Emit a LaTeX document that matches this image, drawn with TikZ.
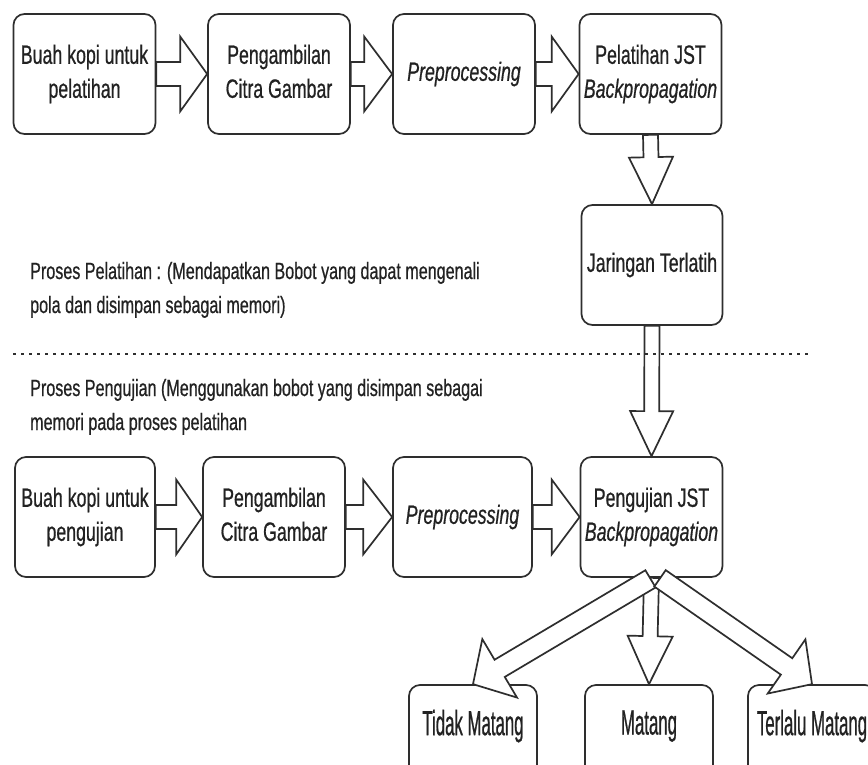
\documentclass[tikz,border=0pt]{standalone}
\usepackage{fontspec}
\usetikzlibrary{calc}
\newfontfamily\dgfont[FakeStretch=0.67,FakeBold=0.6]{Liberation Sans}
\newfontfamily\capfont[FakeStretch=0.686,FakeBold=0.6]{Liberation Sans}
\newfontfamily\lblfont[FakeStretch=0.48,FakeBold=0.6]{Liberation Sans}
\definecolor{ink}{HTML}{2E2E2E}
\definecolor{txt}{HTML}{222222}

% hollow block arrow: #1 tail, #2 tip, #3 half shaft width, #4 half head width, #5 head length
\newcommand\blockarrow[5]{%
  \coordinate (ba-h) at ($(#2)!#5!(#1)$);
  \draw[barrow] ($(#1)!#3!90:(#2)$) -- ($(ba-h)!#3!90:(#2)$) -- ($(ba-h)!#4!90:(#2)$)
    -- (#2) -- ($(ba-h)!#4!-90:(#2)$) -- ($(ba-h)!#3!-90:(#2)$) -- ($(#1)!#3!-90:(#2)$) -- cycle;}

\tikzset{
  box/.style={draw=ink, line width=1.7pt, rounded corners=11pt, fill=white,
    minimum width=142pt, minimum height=120pt, inner sep=0pt, align=center,
    font=\dgfont\fontsize{26.5}{34}\selectfont, text=txt, text depth=5.6pt},
  outbox/.style={box, minimum width=128pt, minimum height=130pt,
    font=\lblfont\fontsize{35}{40}\selectfont, text depth=55pt},
  barrow/.style={draw=ink, line width=1.7pt, fill=white, line join=miter},
  dotline/.style={draw=ink, line width=2.6pt, dash pattern=on 2.6pt off 5.4pt},
  capt/.style={font=\capfont\fontsize{23.5}{34}\selectfont, text=txt, inner sep=0pt, anchor=base west}
}

\begin{document}
\begin{tikzpicture}[x=1pt, y=-1pt]
\useasboundingbox (0,0) rectangle (868,764);
\fill[white] (0,0) rectangle (868,764);
\clip (0,0) rectangle (868,764);

% training row
\node[box] (b1) at (84.5,74) {Buah kopi untuk\\pelatihan};
\node[box] (b2) at (279,74) {Pengambilan\\Citra Gambar};
\node[box] (b3) at (464,74) {\itshape Preprocessing};
\node[box] (b4) at (650.5,74) {Pelatihan JST\\\textit{Backpropagation}};
\node[box, minimum width=141pt] (jar) at (652,265) {Jaringan Terlatih};

% testing row
\node[box, minimum width=140pt] (c1) at (85,517) {Buah kopi untuk\\pengujian};
\node[box] (c2) at (274,517) {Pengambilan\\Citra Gambar};
\node[box, minimum width=139pt] (c3) at (462.5,517) {\itshape Preprocessing};
\node[box] (c4) at (651.5,517) {Pengujian JST\\\textit{Backpropagation}};

% classification results
\node[outbox] (o1) at (473,750) {Tidak Matang};
\node[outbox] (o2) at (649,750) {Matang};
\node[outbox] (o3) at (812,750) {Terlalu Matang};

% process descriptions
\node[capt] (p1) at (30,279) {Proses Pelatihan : (Mendapatkan Bobot yang dapat mengenali};
\node[capt] (p2) at (30,313) {pola dan disimpan sebagai memori)};
\node[capt] (q1) at (30,396) {Proses Pengujian (Menggunakan bobot yang disimpan sebagai};
\node[capt] (q2) at (30,430) {memori pada proses pelatihan};

% flow arrows
\blockarrow{b1.east}{b2.west}{12pt}{37.5pt}{27pt}
\blockarrow{b2.east}{b3.west}{12pt}{37.5pt}{28pt}
\blockarrow{b3.east}{b4.west}{12pt}{37.5pt}{27pt}
\blockarrow{b4.south}{jar.north}{7.5pt}{22pt}{47pt}
\blockarrow{jar.south}{c4.north}{7.5pt}{21.5pt}{45pt}
\blockarrow{c1.east}{c2.west}{12pt}{37.5pt}{26pt}
\blockarrow{c2.east}{c3.west}{12pt}{37.5pt}{29pt}
\blockarrow{c3.east}{c4.west}{12pt}{37.5pt}{28pt}
\blockarrow{c4.south}{o2.north}{7.5pt}{22.5pt}{48pt}
\coordinate (tl) at ($(c4.south)+(-1,1)$);
\coordinate (tr) at ($(c4.south)+(8.5,0.5)$);
\blockarrow{tl}{o1.north}{10pt}{34pt}{31pt}
\blockarrow{tr}{o3.north}{10pt}{33pt}{31pt}

% separator between training and testing
\coordinate (dl) at (13,354);
\coordinate (dr) at (808,354);
\draw[dotline] (dl) -- (dr);
\end{tikzpicture}
\end{document}
